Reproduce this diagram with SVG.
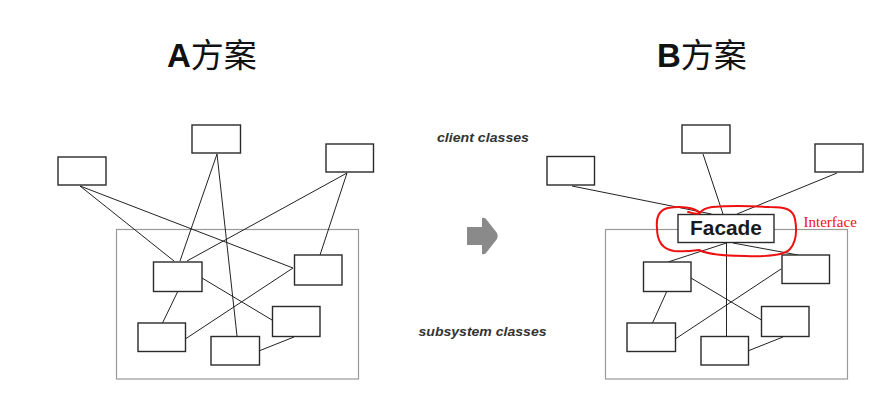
<svg xmlns="http://www.w3.org/2000/svg" width="888" height="412" viewBox="0 0 888 412">
<style>
.bg{fill:#ffffff}
.box{fill:#ffffff;stroke:#2a2a2a;stroke-width:1.4}
.frame{fill:none;stroke:#9a9a9a;stroke-width:1.2}
.ln{stroke:#222222;stroke-width:1;fill:none}
.title{font-family:"Liberation Sans","Noto Sans CJK SC",sans-serif;font-size:33px;fill:#111111}
.lat{font-weight:bold}
.cjk{font-family:"Noto Sans CJK SC",sans-serif;font-weight:normal}
.lbl{font-family:"Liberation Sans",Arial,sans-serif;font-weight:bold;font-style:italic;font-size:12px;fill:#333333}
.fac{font-family:"Liberation Sans",Arial,sans-serif;font-weight:bold;font-size:20px;fill:#1a1a1a}
.red{fill:none;stroke:#ee1111;stroke-width:2;stroke-linecap:round;stroke-linejoin:round}
.iface{font-family:"Liberation Serif","Times New Roman",serif;font-size:15px;fill:#ee1111}
</style>
<rect class="bg" x="0" y="0" width="888" height="412"/>

<g id="titles">
<text class="title" x="167" y="67"><tspan class="lat">A</tspan><tspan class="cjk">方案</tspan></text>
<text class="title" x="657" y="67"><tspan class="lat">B</tspan><tspan class="cjk">方案</tspan></text>
</g>

<g id="labels">
<text class="lbl" x="437" y="141.5" textLength="92" lengthAdjust="spacingAndGlyphs">client classes</text>
<text class="lbl" x="418.5" y="335.5" textLength="128" lengthAdjust="spacingAndGlyphs">subsystem classes</text>
</g>

<g id="arrow">
<path d="M467,227 L482,227 L482,218 Q484,217 486,219 L497,233 Q498.5,236 497,239 L486,253 Q484,255 482,254 L482,245 L467,245 Z" fill="#8a8a8a"/>
</g>

<!-- A scheme -->
<g id="A-frame"><rect class="frame" x="116.5" y="229.5" width="242" height="149.5"/></g>
<g id="A-connectors">
<line class="ln" x1="80" y1="186" x2="174" y2="261"/>
<line class="ln" x1="80" y1="186" x2="293" y2="268"/>
<line class="ln" x1="217" y1="154" x2="180" y2="261"/>
<line class="ln" x1="217" y1="154" x2="237" y2="336"/>
<line class="ln" x1="347" y1="173" x2="187" y2="261"/>
<line class="ln" x1="347" y1="173" x2="320" y2="255"/>
<line class="ln" x1="177.5" y1="292" x2="162.5" y2="323"/>
<line class="ln" x1="202" y1="278" x2="272" y2="320"/>
<line class="ln" x1="293" y1="268" x2="186" y2="338.5"/>
<line class="ln" x1="294" y1="337" x2="260" y2="350.5"/>
</g>
<g id="A-c1"><rect class="box" x="58" y="157" width="48" height="28"/></g>
<g id="A-c2"><rect class="box" x="192" y="125" width="48.5" height="28"/></g>
<g id="A-c3"><rect class="box" x="326" y="144" width="47.5" height="28"/></g>
<g id="A-s1"><rect class="box" x="153.5" y="262" width="48.5" height="29.5"/></g>
<g id="A-s2"><rect class="box" x="294.5" y="255" width="47.5" height="30"/></g>
<g id="A-s3"><rect class="box" x="138" y="323" width="47.5" height="28.5"/></g>
<g id="A-s4"><rect class="box" x="211" y="336.5" width="48.5" height="28.5"/></g>
<g id="A-s5"><rect class="box" x="272.5" y="306.5" width="47.5" height="30"/></g>

<!-- B scheme -->
<g id="B-frame"><rect class="frame" x="605.5" y="229.5" width="242" height="149.5"/></g>
<g id="B-connectors">
<line class="ln" x1="572" y1="186" x2="711.5" y2="214"/>
<line class="ln" x1="703" y1="154" x2="723" y2="214"/>
<line class="ln" x1="837" y1="173" x2="737" y2="214"/>
<line class="ln" x1="726.5" y1="243" x2="668" y2="262"/>
<line class="ln" x1="726.5" y1="243" x2="726.5" y2="336.5"/>
<line class="ln" x1="733" y1="243" x2="798" y2="255"/>
<line class="ln" x1="666.5" y1="292" x2="652.5" y2="323"/>
<line class="ln" x1="691" y1="278" x2="761.5" y2="320"/>
<line class="ln" x1="781" y1="269" x2="676" y2="338.5"/>
<line class="ln" x1="783" y1="337" x2="749" y2="350.5"/>
</g>
<g id="B-c1"><rect class="box" x="547" y="156.5" width="47.5" height="28.5"/></g>
<g id="B-c2"><rect class="box" x="682" y="125" width="48" height="28"/></g>
<g id="B-c3"><rect class="box" x="815" y="144" width="48" height="28"/></g>
<g id="B-facade">
<rect class="box" x="678" y="214.5" width="96" height="28"/>
<text class="fac" x="726" y="235" text-anchor="middle" textLength="72" lengthAdjust="spacingAndGlyphs">Facade</text>
</g>
<g id="B-s1"><rect class="box" x="643.5" y="262" width="47.5" height="29.5"/></g>
<g id="B-s2"><rect class="box" x="782" y="255" width="47.5" height="28.5"/></g>
<g id="B-s3"><rect class="box" x="627" y="323" width="48.5" height="28.5"/></g>
<g id="B-s4"><rect class="box" x="701" y="336.5" width="47.5" height="28.5"/></g>
<g id="B-s5"><rect class="box" x="761.5" y="306.5" width="47.5" height="30"/></g>

<g id="interface-mark">
<path class="red" d="M700,213 C694,207 680,206 668,208 C659,210 656,218 657,228 C657,240 661,249 674,251 C684,252 692,251 699,250 C705,253 720,256 745,256 C770,257 785,255 790,249 C796,242 797,230 795,219 C793,209 785,207 770,207 C750,206 725,206 712,207 C705,208 702,210 700,213 C697,215 693,213 688,212"/>
<text class="iface" x="803.5" y="226.5">Interface</text>
</g>
</svg>
